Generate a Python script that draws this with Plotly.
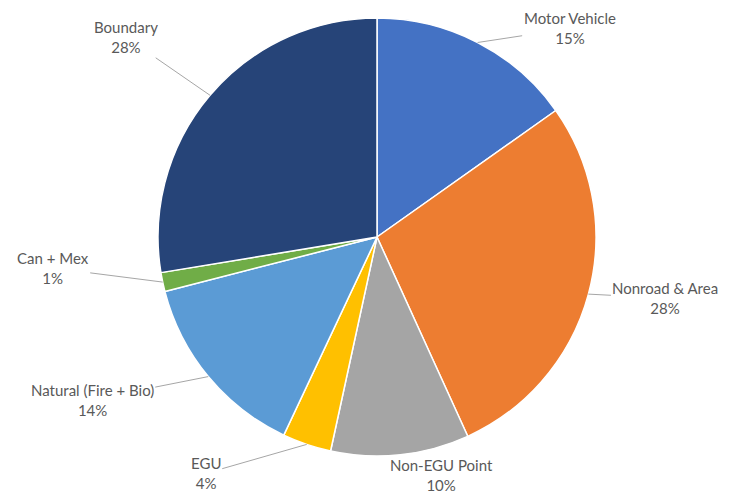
import numpy as np
import plotly.graph_objects as go

labels = ["Motor Vehicle", "Nonroad & Area", "Non-EGU Point", "EGU",
          "Natural (Fire + Bio)", "Can + Mex", "Boundary"]
values = [15.2, 28.0, 10.2, 3.6, 14.0, 1.4, 27.6]
colors = ["#4472C4", "#ED7D31", "#A5A5A5", "#FFC000", "#5B9BD5", "#70AD47", "#264478"]

# label offsets (px) from the slice edge to the text
offsets = [(92, -14), (77, 4), (41, 20), (-101, 29), (-116, 23), (-110, -14), (-84, -58)]

fig = go.Figure(go.Pie(
    labels=labels,
    values=values,
    sort=False,
    direction="clockwise",
    rotation=0,
    marker=dict(colors=colors, line=dict(color="white", width=1.5)),
    textinfo="none",
    hoverinfo="label+percent",
    showlegend=False,
))

total = sum(values)
cum = np.cumsum([0] + values[:-1])
for lab, v, c, (ax, ay) in zip(labels, values, cum, offsets):
    theta = 2 * np.pi * (c + v / 2) / total
    fig.add_annotation(
        x=0.5 + 0.5 * np.sin(theta),
        y=0.5 + 0.5 * np.cos(theta),
        xref="paper", yref="paper",
        text=f"{lab}<br>{v / total * 100:.0f}%",
        showarrow=True, arrowhead=0, arrowwidth=1, arrowcolor="#A6A6A6",
        ax=ax, ay=ay, standoff=0,
        font=dict(family="Lato", size=15, color="#595959"),
    )

# page body adds an 8px margin, so the plot area is shifted up/left
fig.update_layout(
    width=752, height=497,
    margin=dict(l=150, r=164, t=10, b=49),
    paper_bgcolor="white",
    plot_bgcolor="white",
)

fig.write_html("out.html")
